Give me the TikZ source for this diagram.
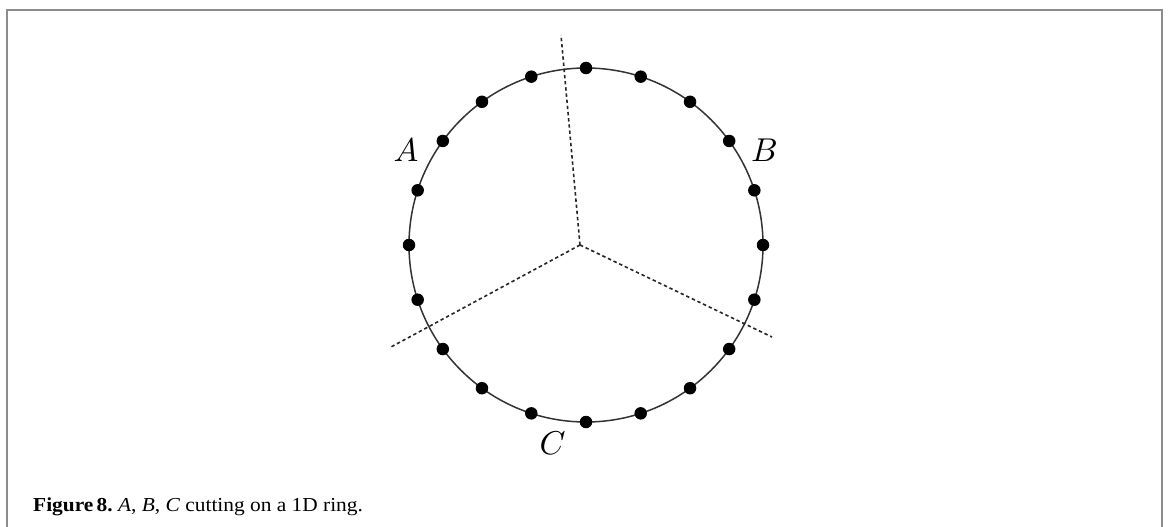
\documentclass[tikz,border=0pt]{standalone}
\usepackage{fontspec}
\usetikzlibrary{calc}
\newfontfamily\capfont[FakeStretch=1.08]{Liberation Serif}
\begin{document}
\begin{tikzpicture}[x=1pt,y=-1pt,
  frame/.style={draw=black!45,line width=2pt},
  ring/.style={draw=black!80,line width=1.5pt},
  site/.style={circle,fill=black,inner sep=0pt,minimum size=12.5pt},
  cut/.style={draw=black!85,line width=1.6pt,dash pattern=on 3.4pt off 2.8pt},
  lab/.style={inner sep=0pt,scale=3.3,font=\fontsize{10}{12}\selectfont}]
\useasboundingbox (0,0) rectangle (1168,527);
\draw[frame] (6.5,528) -- (6.5,10) -- (1162,10) -- (1162,528);
\coordinate (c) at (586,245);
\draw[ring] (c) circle[radius=177];
\foreach \k in {0,...,19}{
  \node[site] (d\k) at ($(c)+({90+18*\k}:177 and -177)$) {};
}
\coordinate (o) at (580,245);
\coordinate (ta) at (561,35);
\coordinate (tl) at (391,347);
\coordinate (tr) at (772,337);
\draw[cut] (o) -- (ta);
\draw[cut] (o) -- (tl);
\draw[cut] (o) -- (tr);
\node[lab] (A) at (406,150) {$A$};
\node[lab] (B) at (764.5,150) {$B$};
\node[lab] (C) at (552.5,443) {$C$};
\node[anchor=base west,inner sep=0pt,font=\capfont\fontsize{19.8}{24}\selectfont] (cap) at (33,511)
  {\textbf{Figure\,8.}\ \textit{A},\ \textit{B},\ \textit{C} cutting on a 1D ring.};
\end{tikzpicture}
\end{document}
